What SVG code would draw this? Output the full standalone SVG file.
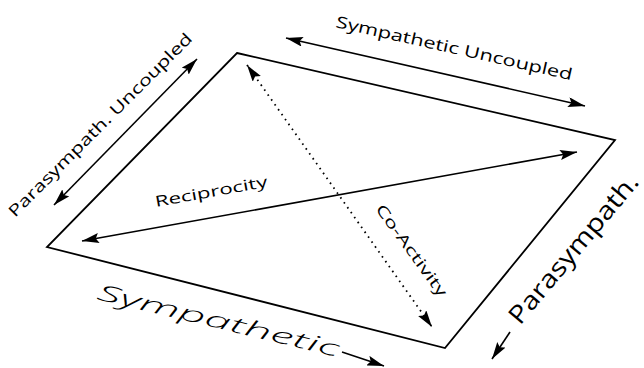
<svg xmlns="http://www.w3.org/2000/svg" width="644" height="368" viewBox="0 0 644 368">
<defs>
<marker id="ah" viewBox="0 0 17 10" refX="17" refY="5" markerWidth="17" markerHeight="10" markerUnits="userSpaceOnUse" orient="auto-start-reverse">
<path d="M0,0 L17,5 L0,10 L3,5 z" fill="#000"/>
</marker>
<style>
.edge{fill:none;stroke:#000;stroke-width:1.8;stroke-linejoin:miter}
.arr{fill:none;stroke:#000;stroke-width:1.6}
.dot{fill:none;stroke:#000;stroke-width:1.8;stroke-dasharray:1.6 4.4}
.lbl{font-family:"Open Sans","DejaVu Sans","Liberation Sans",sans-serif;font-weight:400;fill:#000}
.big{font-weight:300}
</style>
</defs>
<rect width="644" height="368" fill="#fff"/>
<g id="plane">
<polygon class="edge" points="237,53 615,140 445,348 47,247"/>
</g>
<g id="connectors">
<line class="arr" x1="286" y1="38" x2="585" y2="106" marker-start="url(#ah)" marker-end="url(#ah)"/>
<line class="arr" x1="197" y1="59" x2="54" y2="205" marker-start="url(#ah)" marker-end="url(#ah)"/>
<line class="arr" x1="82" y1="241" x2="577" y2="152" marker-start="url(#ah)" marker-end="url(#ah)"/>
<line class="dot" x1="247" y1="65" x2="432" y2="327" marker-start="url(#ah)" marker-end="url(#ah)"/>
<line class="arr" x1="342" y1="352" x2="384" y2="366" marker-end="url(#ah)"/>
<line class="arr" x1="510" y1="332" x2="492" y2="359" marker-end="url(#ah)"/>
</g>
<g id="labels">
<text class="lbl" font-size="16" transform="translate(335,27) rotate(12.7)" textLength="242" lengthAdjust="spacingAndGlyphs">Sympathetic Uncoupled</text>
<text class="lbl" font-size="16" transform="translate(15,218) rotate(-45)" textLength="252" lengthAdjust="spacingAndGlyphs">Parasympath. Uncoupled</text>
<text class="lbl" font-size="15" transform="translate(156,207) rotate(-10.3)" textLength="114" lengthAdjust="spacingAndGlyphs">Reciprocity</text>
<text class="lbl" font-size="15" transform="translate(375,209) rotate(54)" textLength="110" lengthAdjust="spacingAndGlyphs">Co-Activity</text>
<text class="lbl big" font-size="22" font-style="italic" transform="translate(96,299) rotate(13.5)" textLength="248" lengthAdjust="spacingAndGlyphs">Sympathetic</text>
<text class="lbl" font-size="25" transform="translate(520,326) rotate(-50)" textLength="187" lengthAdjust="spacingAndGlyphs">Parasympath.</text>
</g>
</svg>
